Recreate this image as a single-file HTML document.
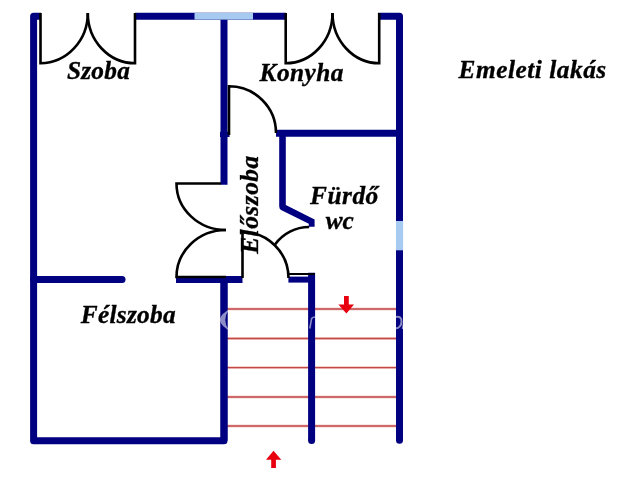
<!DOCTYPE html>
<html><head><meta charset="utf-8">
<style>
html,body{margin:0;padding:0;background:#fff;width:640px;height:480px;overflow:hidden}
svg{display:block}
text{font-family:"Liberation Serif",serif;font-weight:bold;font-style:italic;font-size:25.3px;fill:#000;stroke:#000;stroke-width:0.35px}
</style></head><body>
<svg width="640" height="480" viewBox="0 0 640 480">
<rect width="640" height="480" fill="#fff"/>
<!-- red stair lines -->
<g stroke="#f6cfcc" stroke-width="3" fill="none"><path d="M227 309H397M227 338.5H397M227 367.6H397M227 397H397M227 426H397"/></g>
<g stroke="#c04a48" stroke-width="1.3" fill="none">
<path d="M227 309H397M227 338.5H397M227 367.6H397M227 397H397M227 426H397"/>
</g>
<!-- walls -->
<g stroke="#000080" stroke-width="7" fill="none" stroke-linejoin="round" stroke-linecap="butt">
<path d="M41 16.3H33.6V440.8H224V277" stroke-linejoin="round"/>
<path d="M33.6 279.5H122" stroke-linecap="round"/>
<path d="M135 16.3H286"/>
<path d="M378 16.3H399.5V400"/>
<path d="M399.5 200V440.3" stroke-linecap="round"/>
<path d="M224 16.3V184.7"/>
<path d="M176 279.5H242.5"/>
<path d="M224 277V440.8"/>
<path d="M311.6 272.8V440.5" stroke-width="7"/>
<circle cx="311.6" cy="440.5" r="3.5" fill="#000080" stroke="none"/>
<path d="M276 133.3H399.5"/>
</g>
<path d="M279.2 130H285.8V205L314.6 219.4V226.8H308.8V223.8L281.5 210.2Q279.2 209 279.2 206.5Z" fill="#000080"/>
<rect x="288.4" y="276.6" width="26.4" height="6" fill="#000080"/>
<path d="M288.2 274H314.8" stroke="#000" stroke-width="2"/>
<rect x="220" y="131.8" width="9.5" height="5.2" fill="#000080"/>
<!-- windows -->
<rect x="194.5" y="13" width="58.5" height="6.6" fill="#a6caf0"/>
<rect x="396" y="221" width="7.1" height="29.3" fill="#a6caf0"/>
<!-- door lines -->
<g stroke="#000" stroke-width="2.6" fill="none">
<path d="M40.5 13V63.2A47.5 50.2 0 0 0 87.8 13"/>
<path d="M135 13V63.2A47.2 50.2 0 0 1 87.8 13"/>
<path d="M285.7 13V63.2A46.8 50.2 0 0 0 332.5 13"/>
<path d="M379.2 13V63.2A46.7 50.2 0 0 1 332.5 13"/>
<path d="M229 135V86.3A47 46.7 0 0 1 276 133"/>
<path d="M221 183.5H176.5A49.5 46.5 0 0 0 226 230"/>
<path d="M226 277H176.5A49.5 47 0 0 1 226 230"/>
<path d="M242.5 278V232A46 46 0 0 1 288.5 278"/>
<path d="M309.2 227A42 42 0 0 0 275 244.5"/>
</g>
<!-- arrows -->
<path d="M344 296H348.8V304.4H354L346.4 313.4L338.4 304.4H344Z" fill="#e8000e"/>
<path d="M271.2 468H275.9V459.8H281.3L273.5 450.8L266 459.8H271.2Z" fill="#e8000e"/>
<!-- watermark -->
<g fill="none" stroke="#fff" stroke-opacity="0.55">
<path d="M233 307.3Q207 320 233 332.7L229 330.5Q221.5 320 229 309.5Z" fill="#fff" fill-opacity="0.55" stroke="none"/>
<path d="M309.8 328.5L311.6 318.5Q313 316.8 315.5 317" stroke-width="1.6"/>
<path d="M396 317Q402 316 401.5 322Q401 327.5 396 328.5" stroke-width="2"/>
<path d="M405 316L402.5 329" stroke-width="1.6"/>
</g>
<!-- labels -->
<g style="filter:blur(0.01px)">
<text x="66.9" y="79" style="letter-spacing:0.27px">Szoba</text>
<text x="259.6" y="80.8" style="letter-spacing:0.43px">Konyha</text>
<text x="458.5" y="77.6" style="letter-spacing:0.54px">Emeleti lakás</text>
<text x="310.1" y="203.8" style="letter-spacing:0.52px">Fürdő</text>
<text x="325.7" y="229" style="letter-spacing:0.05px">wc</text>
<text x="80.8" y="322.6" style="letter-spacing:0.3px">Félszoba</text>
<text transform="translate(258.3,253.8) rotate(-90)" x="0" y="0" style="letter-spacing:0.54px">Előszoba</text>
</g>
</svg>
</body></html>
